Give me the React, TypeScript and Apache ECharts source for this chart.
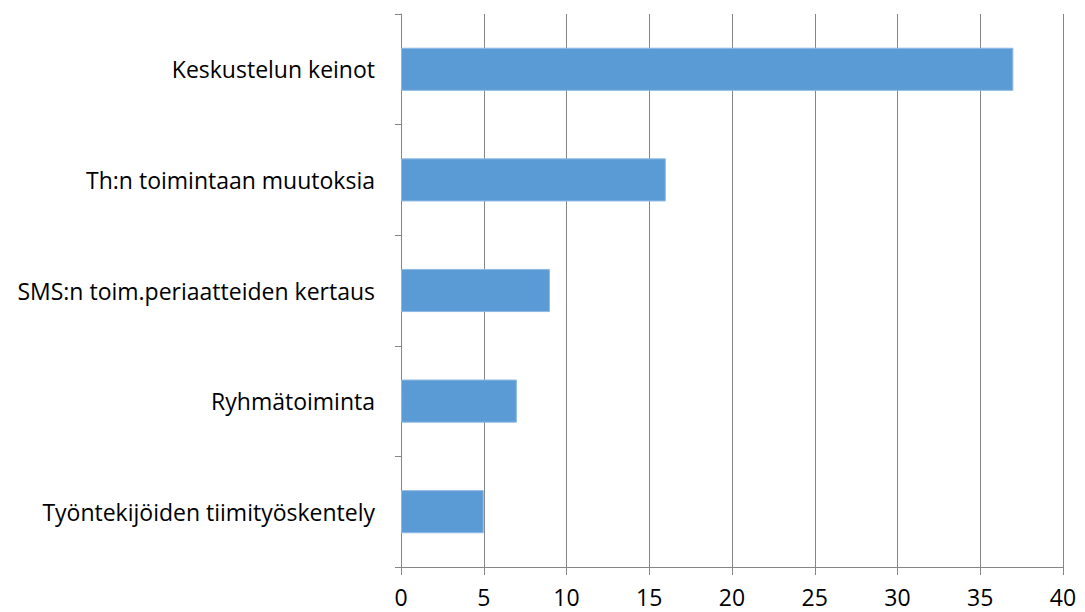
import React, { useEffect, useRef } from "react";
import * as echarts from "echarts";

const categories = [
  "Keskustelun keinot",
  "Th:n toimintaan muutoksia",
  "SMS:n toim.periaatteiden kertaus",
  "Ryhmätoiminta",
  "Työntekijöiden tiimityöskentely",
];
const values = [37, 16, 9, 7, 5];
const axisMin = 0;
const axisMax = 40;
const axisInterval = 5;

export default function App() {
  const ref = useRef<HTMLDivElement>(null);
  useEffect(() => {
    if (!ref.current) return;
    const chart = echarts.init(ref.current, null, { renderer: "svg" });
    const gray = "#868686";
    const font = "'Open Sans', 'Noto Sans', sans-serif";
    chart.setOption({
      animation: false,
      backgroundColor: "#ffffff",
      grid: { left: 401, right: 22, top: 14, bottom: 45, containLabel: false },
      xAxis: {
        type: "value",
        min: axisMin,
        max: axisMax,
        interval: axisInterval,
        axisLine: { show: true, lineStyle: { color: gray, width: 1 } },
        axisTick: { show: true, length: 8, lineStyle: { color: gray } },
        splitLine: { show: true, lineStyle: { color: gray, width: 1 } },
        axisLabel: { color: "#000", fontSize: 23, fontFamily: font, margin: 18 },
      },
      yAxis: {
        type: "category",
        data: categories,
        inverse: true,
        axisLine: { show: true, lineStyle: { color: gray, width: 1 } },
        axisTick: { show: true, length: 6, lineStyle: { color: gray } },
        axisLabel: { color: "#000", fontSize: 23, fontFamily: font, margin: 26 },
      },
      series: [
        {
          type: "bar",
          data: values,
          barWidth: "39%",
          itemStyle: { color: "#5B9BD5", borderColor: "#8DB9E6", borderWidth: 1 },
        },
      ],
    });
    return () => chart.dispose();
  }, []);
  return <div ref={ref} style={{ width: 1085, height: 612, position: "absolute", left: 0, top: 0 }} />;
}
